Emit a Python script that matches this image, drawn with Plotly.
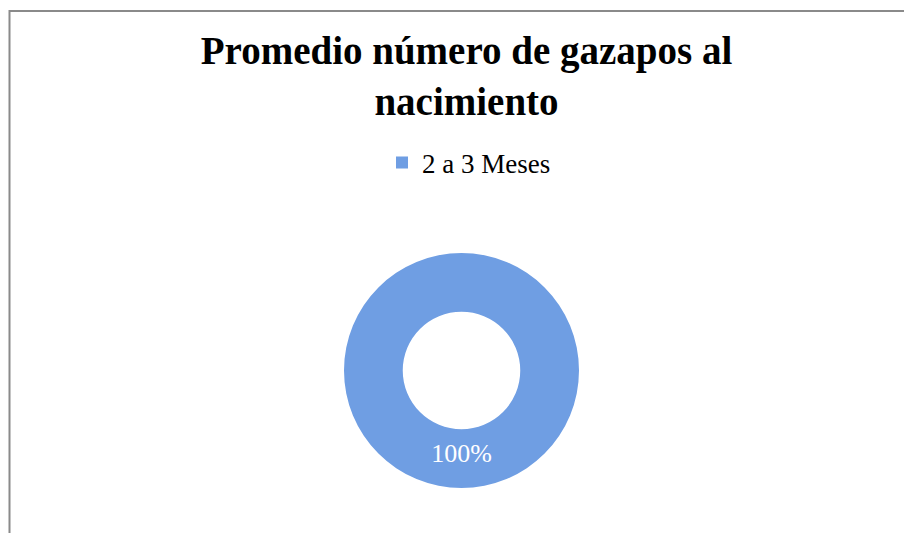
import plotly.graph_objects as go

labels = ["2 a 3 Meses"]
values = [100]
title_text = "Promedio número de gazapos al<br>nacimiento"

# page body has an 8px margin; figure fills the rest of the 912x533 window
OFF = 8
W, H = 912 - OFF, 533 - OFF
cx, cy, r = 461.5 - OFF, 370.5 - OFF, 117.5

fig = go.Figure()
fig.add_trace(go.Pie(
    labels=labels, values=values, hole=0.5,
    marker=dict(colors=["#6f9ee3"], line=dict(width=0)),
    textinfo="percent", textposition="inside",
    insidetextfont=dict(color="white", size=26, family="Liberation Serif"),
    sort=False, direction="clockwise",
    domain=dict(x=[(cx - r) / W, (cx + r) / W], y=[1 - (cy + r) / H, 1 - (cy - r) / H]),
    showlegend=True,
))
fig.update_layout(
    width=W, height=H,
    margin=dict(l=0, r=0, t=0, b=0),
    paper_bgcolor="white", plot_bgcolor="white",
    title=dict(text=title_text, x=(466.5 - OFF) / W, xanchor="center",
               y=1 - (64 - OFF) / H, yanchor="middle",
               font=dict(family="Liberation Serif", size=39, color="black", weight="bold")),
    legend=dict(orientation="h", x=(469 - OFF) / W, xanchor="center",
                y=1 - (163 - OFF) / H, yanchor="middle",
                font=dict(family="Liberation Serif", size=27, color="black")),
    shapes=[dict(type="rect", xref="paper", yref="paper",
                 x0=(9.5 - OFF) / W, x1=1.05, y0=-0.05, y1=1 - (11 - OFF) / H,
                 line=dict(color="#8a8a8a", width=2), fillcolor="rgba(0,0,0,0)")],
)
fig.write_html("out.html")
